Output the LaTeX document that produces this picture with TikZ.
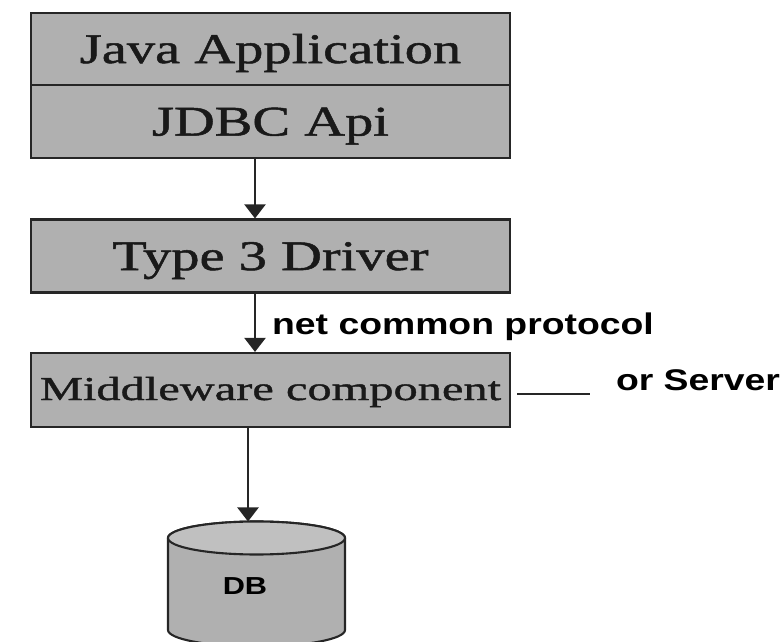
\documentclass[tikz,border=0pt]{standalone}
\usepackage{fontspec}
\usetikzlibrary{positioning,arrows.meta}
\newfontfamily\boxfont[FakeStretch=1.34,FakeBold=1.2]{Liberation Serif}
\newfontfamily\midfont[FakeStretch=1.45,FakeBold=1.2]{Liberation Serif}
\newfontfamily\notefont[FakeStretch=1.25]{Liberation Sans}
\definecolor{boxgray}{RGB}{176,176,176}
\definecolor{topgray}{RGB}{192,192,192}
\definecolor{linegray}{RGB}{38,38,38}
\tikzset{
    layerbox/.style={draw=linegray,line width=1.2pt,fill=boxgray,rectangle,minimum width=9.58cm,text=black!90,
        font=\boxfont\fontsize{24}{28}\selectfont,text height=18pt,text depth=2pt},
    flow/.style={draw=linegray,line width=1.2pt,-{Triangle[width=0.42cm,length=0.28cm]}},
    note/.style={font=\notefont\bfseries\fontsize{17}{20}\selectfont,text=black}
}
\begin{document}
\begin{tikzpicture}
    \clip (0,0) rectangle (15.68,12.82);

    % Client stack
    \node[layerbox,minimum height=1.44cm] (java) at (5.41,11.84) {Java Application};
    \node[layerbox,minimum height=1.46cm] (jdbc) at (5.41,10.39) {JDBC Api};

    % Driver
    \node[layerbox,minimum height=1.46cm] (driver) at (5.41,7.70) {Type 3 Driver};

    % Middleware
    \node[layerbox,minimum height=1.48cm,font=\midfont\fontsize{19}{23}\selectfont,text height=14pt,text depth=2.6pt] (mid) at (5.41,5.02) {Middleware component};

    % Database
    \filldraw[draw=linegray,line width=1.2pt,fill=boxgray] (3.36,2.06) -- (3.36,0.22)
        arc[start angle=180,end angle=360,x radius=1.77,y radius=0.33] -- (6.9,2.06)
        arc[start angle=0,end angle=180,x radius=1.77,y radius=0.33];
    \filldraw[draw=linegray,line width=1.2pt,fill=topgray] (5.13,2.06) ellipse[x radius=1.77,y radius=0.33];
    \node[font=\notefont\bfseries\fontsize{14}{16}\selectfont,text=black] (dblabel) at (4.9,1.1) {DB};
    \coordinate (dbtop) at (4.96,2.39);

    % Labels
    \node[note] (protocol) at (9.26,6.28) {net common protocol};
    \node[note] (server) at (13.96,5.22) {or Server};
    \coordinate (leadl) at (10.34,4.94);
    \coordinate (leadr) at (11.8,4.94);

    % Connectors
    \draw[flow] ([xshift=-0.31cm]jdbc.south) -- ([xshift=-0.31cm]driver.north);
    \draw[flow] ([xshift=-0.31cm]driver.south) -- ([xshift=-0.31cm]mid.north);
    \draw[flow] ([xshift=-0.45cm]mid.south) -- (dbtop);
    \draw[draw=linegray,line width=1.2pt] (leadl) -- (leadr);
\end{tikzpicture}
\end{document}
